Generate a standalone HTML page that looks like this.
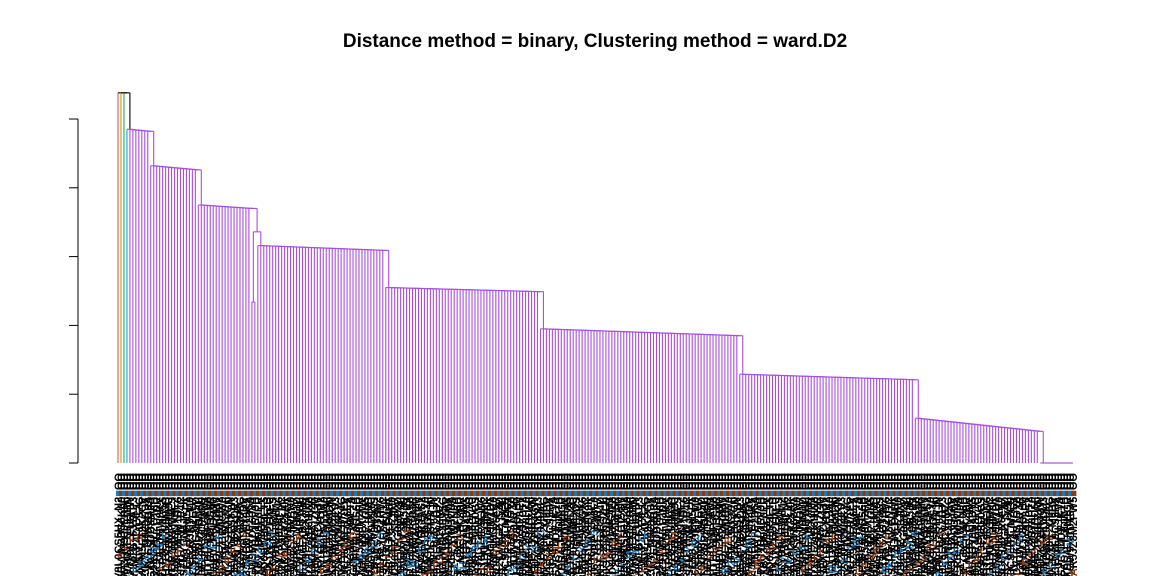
<!DOCTYPE html>
<html><head><meta charset="utf-8"><style>
html,body{margin:0;padding:0;background:#fff;width:1152px;height:576px;overflow:hidden;}
svg{display:block;font-family:"Liberation Sans",sans-serif;}
</style></head><body>
<svg id="chart" width="1152" height="576" viewBox="0 0 1152 576" overflow="hidden">
<rect width="1152" height="576" fill="#fff"/>
<text x="595" y="47" text-anchor="middle" font-size="19" font-weight="bold">Distance method = binary, Clustering method = ward.D2</text>
<g id="axis"></g>
<g id="tree"></g>
<g id="labels"></g>
</svg>
<script>
// chain blocks of the dendrogram (heights in axis units, 0..5)
const topHeights = [5.38, 5.38, 5.38];
const blockCounts = [8, 16, 18, 2, 43, 52, 67, 59, 42, 12];
const blockStartH = [4.85, 4.32, 3.75, 3.36, 3.16, 2.55, 1.95, 1.29, 0.65, 0];
const blockEndH   = [4.82, 4.26, 3.70, 3.36, 3.09, 2.49, 1.85, 1.21, 0.46, 0];
const pairHeight = 2.34;
const yTicks = [0, 1, 2, 3, 4, 5];

const NS = "http://www.w3.org/2000/svg";
const y0 = 463, unit = 68.8, xLeft = 118, xRight = 1073;
const yS = v => y0 - v * unit;

const heights = [];
const kinds = [];
topHeights.forEach(h => { heights.push(h); kinds.push('leaf'); });
blockCounts.forEach((c, b) => {
  if (b === 3) { heights.push(blockStartH[b]); kinds.push('pair'); return; }
  for (let i = 0; i < c; i++) {
    const t = c > 1 ? i / (c - 1) : 0;
    heights.push(blockStartH[b] + (blockEndH[b] - blockStartH[b]) * t);
    kinds.push('leaf');
  }
});
let nLeaves = 0; kinds.forEach(k => nLeaves += (k === 'pair' ? 2 : 1));
const sp = (xRight - xLeft) / (nLeaves - 1);
const tree = document.getElementById('tree');
const leafColors = ['#DF536B', '#B5A40E', '#28A745', '#2297E6'];
const purple = '#A64FDC';
function line(x1, y1, x2, y2, col, name) {
  const l = document.createElementNS(NS, 'line');
  l.setAttribute('x1', x1); l.setAttribute('y1', y1); l.setAttribute('x2', x2); l.setAttribute('y2', y2);
  l.setAttribute('stroke', col); l.setAttribute('stroke-width', '1.1');
  
  
  tree.appendChild(l);
}
const elems = []; let li = 0;
kinds.forEach((k, i) => {
  if (k === 'pair') { elems.push({ x: xLeft + (li + 0.5) * sp, xa: xLeft + li * sp, xb: xLeft + (li + 1) * sp, pair: true }); li += 2; }
  else { elems.push({ x: xLeft + li * sp, pair: false }); li += 1; }
});
const n = elems.length;
const nodeX = new Array(n); const nodeH = new Array(n);
nodeX[n - 1] = elems[n - 1].x; nodeH[n - 1] = 0;
for (let k = n - 2; k >= 0; k--) {
  nodeX[k] = (elems[k].x + nodeX[k + 1]) / 2;
  nodeH[k] = Math.max(heights[k], nodeH[k + 1]);
}
for (let k = 0; k < n - 1; k++) {
  const h = yS(nodeH[k]);
  let col = k < 3 ? '#000' : purple;
  const leafCol = k < 4 ? leafColors[k] : purple;
  const e = elems[k];
  const eTop = e.pair ? yS(pairHeight) : y0;
  if (e.pair) {
    line(e.xa, y0, e.xa, eTop, purple, 'pair-leaf');
    line(e.xb, y0, e.xb, eTop, purple, 'pair-leaf');
    line(e.xa, eTop, e.xb, eTop, purple, 'pair-node');
  }
  line(e.x, eTop, e.x, h, leafCol, 'leaf-branch');
  line(e.x, h, nodeX[k + 1], h, col, 'merge-link');
  const restTop = yS(nodeH[k + 1]);
  line(nodeX[k + 1], restTop, nodeX[k + 1], h, k < 3 ? '#000' : purple, 'subtree-branch');
}
const ax = document.getElementById('axis');
const axl = document.createElementNS(NS, 'line');
axl.setAttribute('x1', 78); axl.setAttribute('x2', 78); axl.setAttribute('y1', yS(5)); axl.setAttribute('y2', y0);
axl.setAttribute('stroke', '#000');


ax.appendChild(axl);
yTicks.forEach(t => {
  const l = document.createElementNS(NS, 'line');
  l.setAttribute('x1', 69); l.setAttribute('x2', 78); l.setAttribute('y1', yS(t)); l.setAttribute('y2', yS(t));
  l.setAttribute('stroke', '#000');
  
  
  ax.appendChild(l);
});
const lab = document.getElementById('labels');
const chars = 'ABCDEFGHJKLMNPRSTUVWXYZ0123456789_';
for (let i = 0; i < nLeaves; i++) {
  const x = xLeft + i * sp + 4;
  const t = document.createElementNS(NS, 'text');
  t.setAttribute('transform', `translate(${x},473) rotate(-90)`);
  t.setAttribute('text-anchor', 'end');
  t.setAttribute('font-size', '11');
  t.setAttribute('font-weight', 'bold');
  let s = '';
  for (let j = 0; j < 16; j++) s += chars[(i * 7 + j * 13 + (i * j) % 5) % chars.length];
  const sq = i % 2 ? '#8B3A0F' : '#1F78B4';
  const p = 2 + (i * 5) % 9;
  t.innerHTML = `<tspan fill="#000">${s.slice(0,p)}</tspan><tspan fill="${sq}">${s.slice(p,p+1)}</tspan><tspan fill="#000">${s.slice(p+1)}</tspan><tspan fill="${sq}">■</tspan><tspan fill="#000">OO</tspan>`;
  
  
  lab.appendChild(t);
}
</script>
</body></html>
